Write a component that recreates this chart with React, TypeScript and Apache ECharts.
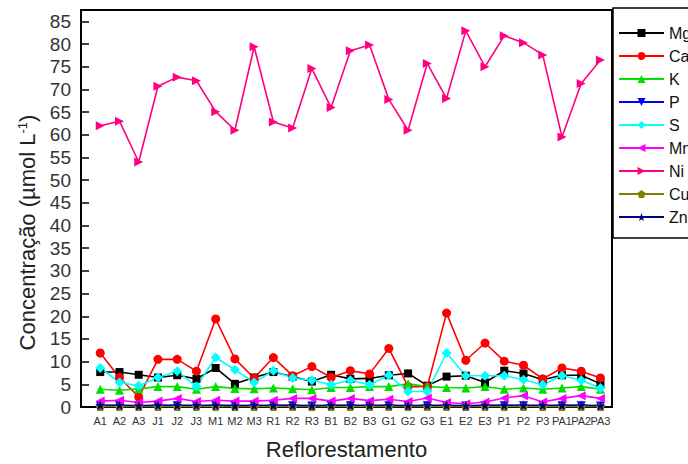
import React, { useEffect, useRef } from "react";
import * as echarts from "echarts";

const categories = [
  "A1", "A2", "A3", "J1", "J2", "J3", "M1", "M2", "M3", "R1", "R2", "R3", "B1", "B2",
  "B3", "G1", "G2", "G3", "E1", "E2", "E3", "P1", "P2", "P3", "PA1", "PA2", "PA3",
];

const mg = [7.7, 7.7, 7.1, 6.5, 7.0, 6.2, 8.6, 5.1, 6.5, 7.7, 6.7, 5.6, 7.1, 6.2, 6.3, 7.0, 7.4, 4.7, 6.7, 6.9, 5.4, 8.0, 7.4, 6.0, 7.0, 7.0, 5.1];
const ca = [11.9, 6.5, 2.2, 10.5, 10.5, 7.9, 19.4, 10.6, 6.4, 10.9, 6.9, 8.9, 6.5, 8.0, 7.3, 12.9, 4.5, 4.5, 20.7, 10.3, 14.1, 10.1, 9.2, 6.2, 8.6, 7.9, 6.4];
const k = [3.9, 3.7, 4.0, 4.5, 4.5, 3.9, 4.5, 4.1, 4.0, 4.2, 4.0, 3.8, 4.3, 4.3, 4.5, 4.5, 5.1, 4.5, 4.3, 4.2, 4.5, 3.9, 4.2, 3.9, 4.2, 4.5, 3.9];
const p = [0.3, 0.3, 0.2, 0.3, 0.3, 0.2, 0.3, 0.3, 0.2, 0.3, 0.3, 0.2, 0.3, 0.3, 0.2, 0.3, 0.2, 0.3, 0.2, 0.2, 0.3, 0.3, 0.3, 0.2, 0.3, 0.3, 0.2];
const s = [8.6, 5.4, 4.7, 6.5, 7.9, 4.5, 10.9, 8.2, 5.4, 8.0, 6.4, 5.9, 4.9, 5.9, 4.9, 7.0, 3.4, 3.4, 11.9, 6.9, 6.9, 6.9, 6.0, 4.9, 6.9, 5.9, 4.2];
const mn = [1.3, 1.5, 1.0, 1.3, 1.9, 1.2, 1.5, 1.3, 1.3, 1.5, 1.9, 1.9, 1.3, 1.9, 1.4, 1.7, 1.2, 2.0, 1.0, 0.7, 1.1, 2.0, 2.5, 1.1, 1.9, 2.5, 1.9];
const ni = [62.0, 63.0, 54.0, 70.7, 72.7, 71.9, 65.1, 61.0, 79.4, 62.8, 61.5, 74.6, 66.0, 78.5, 79.8, 67.8, 61.0, 75.7, 68.0, 82.9, 75.0, 81.8, 80.3, 77.6, 59.5, 71.3, 76.5];
const cu = [0.1, 0.1, 0.1, 0.1, 0.1, 0.1, 0.1, 0.1, 0.1, 0.1, 0.1, 0.1, 0.1, 0.1, 0.1, 0.1, 0.1, 0.1, 0.1, 0.1, 0.1, 0.1, 0.1, 0.1, 0.1, 0.1, 0.1];
const zn = [0.4, 0.4, 0.3, 0.4, 0.4, 0.4, 0.4, 0.3, 0.4, 0.4, 0.4, 0.3, 0.4, 0.4, 0.4, 0.4, 0.3, 0.4, 0.4, 0.3, 0.4, 0.4, 0.4, 0.4, 0.4, 0.4, 0.3];

const yTicks = [0, 5, 10, 15, 20, 25, 30, 35, 40, 45, 50, 55, 60, 65, 70, 75, 80, 85];

const PENTAGON = "path://M0,-10L9.5,-3.1L5.9,8.1L-5.9,8.1L-9.5,-3.1Z";
const STAR =
  "path://M0,-10L2.35,-3.24L9.51,-3.09L3.8,1.24L5.88,8.09L0,4L-5.88,8.09L-3.8,1.24L-9.51,-3.09L-2.35,-3.24Z";

type Spec = { name: string; data: number[]; color: string; symbol: string; rotate?: number; size?: number };

const specs: Spec[] = [
  { name: "Mg", data: mg, color: "#000000", symbol: "rect", size: 8 },
  { name: "Ca", data: ca, color: "#ff0000", symbol: "circle", size: 9 },
  { name: "K", data: k, color: "#00e000", symbol: "triangle", size: 9 },
  { name: "P", data: p, color: "#0000ff", symbol: "triangle", rotate: 180, size: 9 },
  { name: "S", data: s, color: "#00ffff", symbol: "diamond", size: 10 },
  { name: "Mn", data: mn, color: "#ff00ff", symbol: "triangle", rotate: 90, size: 9 },
  { name: "Ni", data: ni, color: "#ff0080", symbol: "triangle", rotate: -90, size: 9 },
  { name: "Cu", data: cu, color: "#808000", symbol: PENTAGON, size: 9 },
  { name: "Zn", data: zn, color: "#000080", symbol: STAR, size: 10 },
];

export default function App() {
  const ref = useRef<HTMLDivElement>(null);

  useEffect(() => {
    if (!ref.current) return;
    const chart = echarts.init(ref.current, null, { renderer: "svg" });
    const font = "Liberation Sans, Arial, sans-serif";

    chart.setOption({
      animation: false,
      backgroundColor: "#ffffff",
      grid: {
        left: 81,
        top: 10,
        right: 76,
        bottom: 57,
        outerBoundsMode: "none",
        show: true,
        borderColor: "#000",
        borderWidth: 2,
      },
      legend: {
        orient: "vertical",
        left: 613,
        top: 8,
        itemWidth: 45,
        itemHeight: 10,
        itemGap: 7,
        padding: [17, 30, 13, 5],
        borderColor: "#000",
        borderWidth: 1.5,
        backgroundColor: "#fff",
        textStyle: { fontFamily: font, fontSize: 16, color: "#111" },
        data: specs.map((d) => d.name),
      },
      xAxis: {
        type: "value",
        min: 0,
        max: 27.6,
        interval: 1,
        name: "Reflorestamento",
        nameLocation: "middle",
        nameGap: 31,
        nameTextStyle: { fontFamily: font, fontSize: 22, color: "#222" },
        axisLine: { show: true, lineStyle: { color: "#000", width: 2 } },
        axisTick: { show: false },
        splitLine: { show: false },
        axisLabel: {
          fontFamily: font,
          fontSize: 11,
          color: "#333",
          margin: 8,
          showMaxLabel: false,
          formatter: (v: number) => {
            const i = Math.round(v);
            return Math.abs(v - i) < 1e-6 && i >= 1 && i <= categories.length ? categories[i - 1] : "";
          },
        },
      },
      yAxis: {
        type: "value",
        min: 0,
        max: 87.5,
        interval: 5,
        name: "Concentração (µmol L{sup|-1})",
        nameLocation: "middle",
        nameGap: 36,
        nameTextStyle: {
          fontFamily: font,
          fontSize: 22,
          color: "#222",
          padding: [0, 48, 0, 0],
          rich: {
            sup: { fontFamily: font, fontSize: 13, color: "#222", padding: [0, 0, 11, 0] },
          },
        },
        axisLine: { show: true, lineStyle: { color: "#000", width: 2 } },
        axisTick: { show: true, inside: true, length: 8, lineStyle: { color: "#000", width: 1.5 } },
        splitLine: { show: false },
        axisLabel: {
          fontFamily: font,
          fontSize: 19,
          color: "#333",
          margin: 10,
          formatter: (v: number) => (yTicks.includes(v) ? String(v) : ""),
        },
      },
      series: specs.map((d) => ({
        name: d.name,
        type: "line",
        data: d.data.map((v, i) => [i + 1, v]),
        symbol: d.symbol,
        symbolRotate: d.rotate ?? 0,
        symbolSize: d.size ?? 9,
        showAllSymbol: true,
        lineStyle: { color: d.color, width: 1.6 },
        itemStyle: { color: d.color, borderWidth: 0 },
        emphasis: { disabled: true },
      })),
    });

    return () => chart.dispose();
  }, []);

  return (
    <div
      ref={ref}
      style={{ position: "fixed", left: 0, top: 0, width: 688, height: 464, background: "#fff" }}
    />
  );
}
